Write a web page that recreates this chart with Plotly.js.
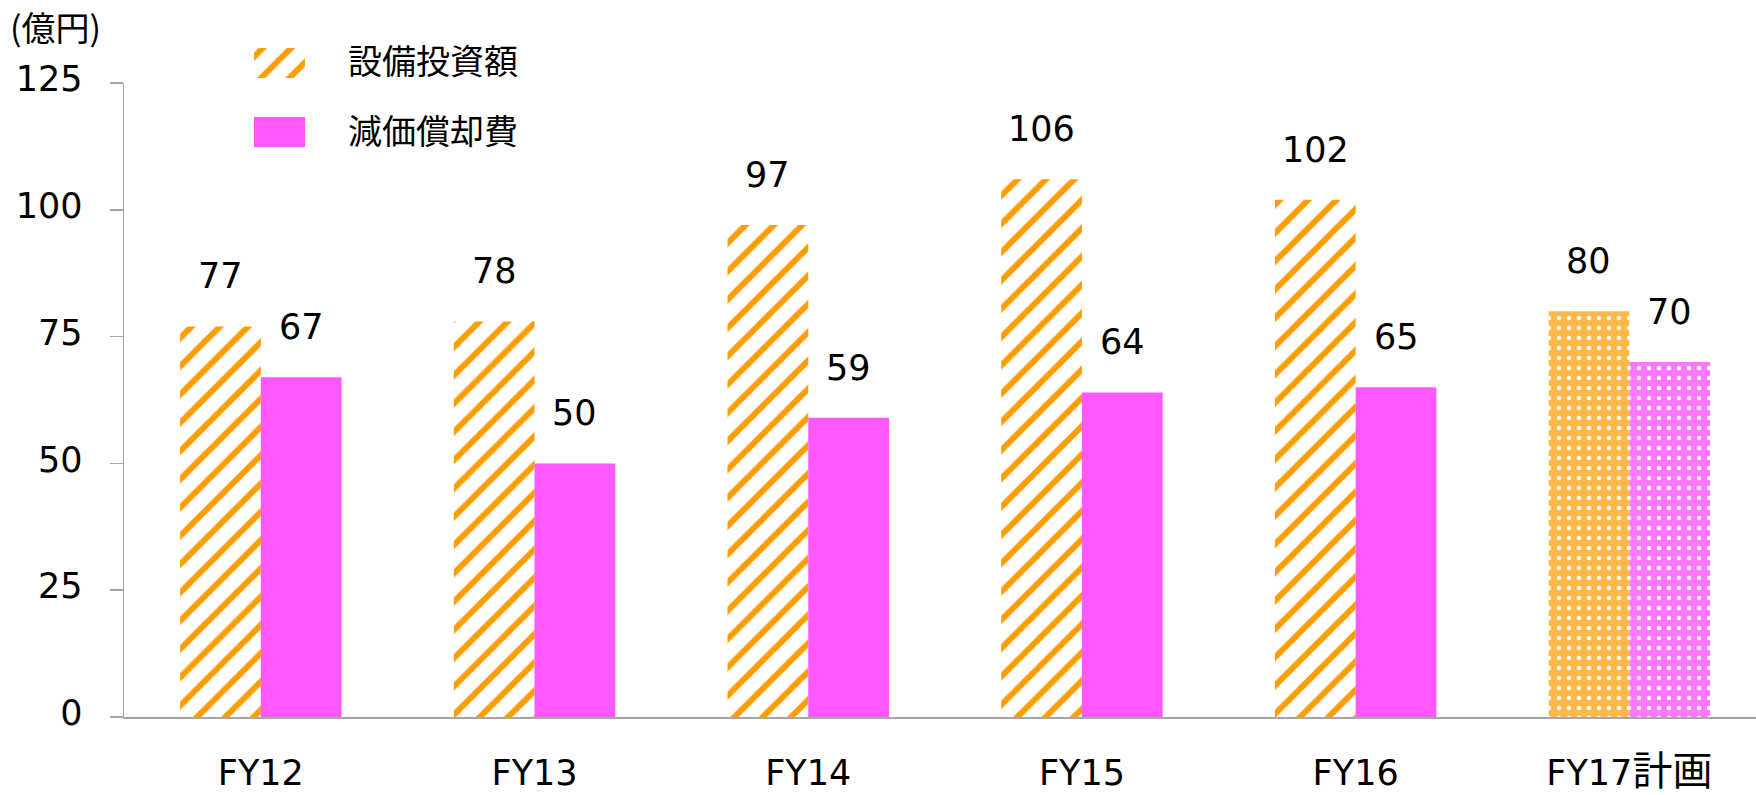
<!DOCTYPE html>
<html>
<head>
<meta charset="utf-8">
<script src="https://cdn.plot.ly/plotly-3.0.1.min.js"></script>
<style>html,body{margin:0;padding:0;background:#fff;}#chart{width:1756px;height:795px;}</style>
</head>
<body>
<div id="chart"></div>
<script>
// ---- data ----
const categories = ['FY12', 'FY13', 'FY14', 'FY15', 'FY16', 'FY17計画'];
const capex = [77, 78, 97, 106, 102, 80];          // 設備投資額
const depreciation = [67, 50, 59, 64, 65, 70];     // 減価償却費
const seriesNames = ['設備投資額', '減価償却費'];
const yTicks = [0, 25, 50, 75, 100, 125];
const unitLabel = '(億円)';

// ---- styles ----
const FONT = 'DejaVu Sans, "Noto Sans CJK JP", sans-serif';
const CJK = '"Noto Sans CJK JP", sans-serif';
const ORANGE = '#FF9C00';
const PINK = '#FF58FF';
const PLAN_ORANGE = '#FFB84A';
const PLAN_PINK = '#FF78FF';
const W = 1756, H = 795;
const mL = 124, mR = 0, mT = 20, mB = 78;
const plotW = W - mL - mR, plotH = H - mT - mB;
const px2x = p => (p - mL) / plotW;
const py2y = p => (H - mB - p) / plotH;
const yTopPx = 83; // pixel position of y=125
const yDomTop = py2y(yTopPx);
const catWidthPx = 273.7;

const nAct = categories.length - 1; // last category is the plan
const actCats = categories.slice(0, nAct), planCats = categories.slice(nAct);

const stripe = {shape: '/', fillmode: 'replace', bgcolor: '#FFFFFF', fgcolor: ORANGE, size: 20, solidity: 0.3};
const dotsOn = bg => ({shape: '.', fillmode: 'replace', bgcolor: bg, fgcolor: '#FFFFFF', size: 10, solidity: 0.15});

const traces = [
  {type: 'bar', name: seriesNames[0], x: actCats, y: capex.slice(0, nAct), offsetgroup: 'a',
   showlegend: false, marker: {color: ORANGE, line: {width: 0}, pattern: stripe}},
  {type: 'bar', name: seriesNames[0], x: planCats, y: capex.slice(nAct), offsetgroup: 'a',
   showlegend: false, marker: {color: PLAN_ORANGE, line: {width: 0}, pattern: dotsOn(PLAN_ORANGE)}},
  {type: 'bar', name: seriesNames[1], x: actCats, y: depreciation.slice(0, nAct), offsetgroup: 'b',
   showlegend: false, marker: {color: PINK, line: {width: 0}}},
  {type: 'bar', name: seriesNames[1], x: planCats, y: depreciation.slice(nAct), offsetgroup: 'b',
   showlegend: false, marker: {color: PLAN_PINK, line: {width: 0}, pattern: dotsOn(PLAN_PINK)}},
  // legend swatches drawn as bars in a small auxiliary subplot
  {type: 'bar', orientation: 'h', x: [1, 1], y: [1, 0], width: 30 / 69,
   xaxis: 'x2', yaxis: 'y2', showlegend: false, hoverinfo: 'skip',
   marker: {color: [ORANGE, PINK], line: {width: 0},
     pattern: {shape: ['/', ''], fillmode: 'replace', bgcolor: ['#FFFFFF', PINK], fgcolor: [ORANGE, PINK], size: 20, solidity: 0.3}}}
];

const annotations = [];
categories.forEach((c, i) => {
  annotations.push({x: c, y: capex[i], xref: 'x', yref: 'y', text: String(capex[i]), showarrow: false,
    xshift: -40.4, yshift: 50, yanchor: 'middle', font: {family: FONT, size: 35, color: '#000'}});
  annotations.push({x: c, y: depreciation[i], xref: 'x', yref: 'y', text: String(depreciation[i]), showarrow: false,
    xshift: 40.4, yshift: 50, yanchor: 'middle', font: {family: FONT, size: 35, color: '#000'}});
});
// legend texts
[[seriesNames[0], 60], [seriesNames[1], 129]].forEach(([t, py]) => {
  annotations.push({xref: 'paper', yref: 'paper', x: px2x(346), y: py2y(py), text: t, showarrow: false,
    xanchor: 'left', yanchor: 'middle', font: {family: CJK, size: 34, color: '#000'}});
});
// unit label
annotations.push({xref: 'paper', yref: 'paper', x: px2x(8), y: py2y(26), text: unitLabel, showarrow: false,
  xanchor: 'left', yanchor: 'middle', font: {family: CJK, size: 34, color: '#000'}});

const tickText = categories.map(c => c.replace(/([^\x00-\x7F]+)/, '<span style="font-size:40px">$1</span>'));

const layout = {
  width: W, height: H,
  margin: {l: mL, r: mR, t: mT, b: mB, pad: 0},
  paper_bgcolor: '#fff', plot_bgcolor: '#fff',
  barmode: 'group', bargap: 0.41, bargroupgap: 0,
  showlegend: false,
  font: {family: FONT, size: 35, color: '#000'},
  xaxis: {
    type: 'category', domain: [0, 1], range: [-0.5, -0.5 + plotW / catWidthPx],
    tickvals: categories, ticktext: tickText,
    showgrid: false, zeroline: false,
    showline: true, linecolor: '#A6A6A6', linewidth: 2,
    ticks: '', ticklabelstandoff: 24,
    tickfont: {family: FONT, size: 35, color: '#000'}
  },
  yaxis: {
    domain: [0, yDomTop], range: [0, 125], tickvals: yTicks, ticktext: yTicks.map(String),
    showgrid: false, zeroline: false, showline: true, linecolor: '#A6A6A6', linewidth: 1.5,
    ticks: 'outside', ticklen: 13, tickwidth: 1.5, tickcolor: '#A6A6A6',
    ticklabelstandoff: 20, ticklabelshift: -4,
    tickfont: {family: FONT, size: 35, color: '#000'}
  },
  xaxis2: {domain: [px2x(254), px2x(305)], range: [0, 1], anchor: 'y2', visible: false, fixedrange: true},
  yaxis2: {domain: [py2y(166.5), py2y(28.5)], range: [-0.5, 1.5], anchor: 'x2', visible: false, fixedrange: true},
  annotations: annotations
};

Plotly.newPlot('chart', traces, layout, {displayModeBar: false, staticPlot: true});
</script>
</body>
</html>
